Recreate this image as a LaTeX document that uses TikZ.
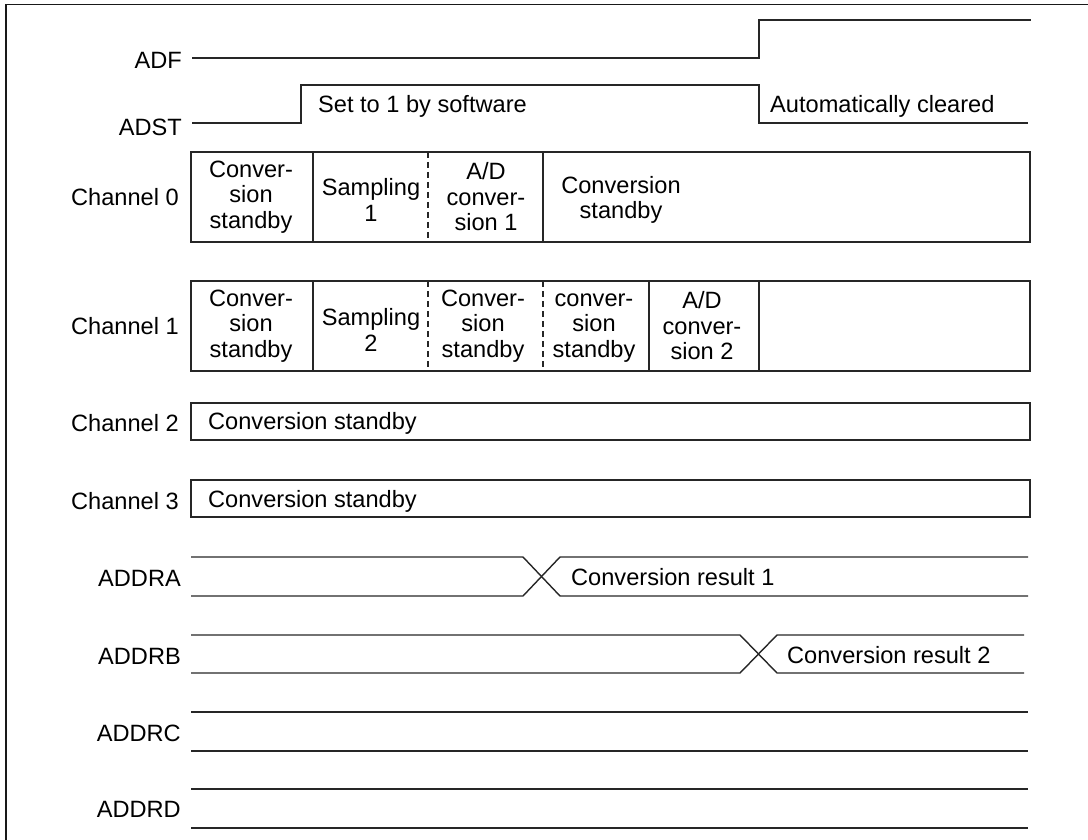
\documentclass[tikz,border=0pt]{standalone}
\usepackage{fontspec}
\setmainfont{Liberation Sans}
\begin{document}
\begin{tikzpicture}[x=1pt,y=-1pt,
  sig/.style={line width=1.4pt, draw=black!85},
  box/.style={line width=1.4pt, draw=black!85},
  dsh/.style={line width=1.2pt, draw=black!85, dash pattern=on 6pt off 4pt},
  frame/.style={line width=1.6pt, draw=black!90},
  lbl/.style={anchor=east, inner sep=0pt},
  txt/.style={inner sep=0pt, align=center},
  wtxt/.style={anchor=west, inner sep=0pt},
  every node/.style={font=\fontsize{23.6}{25.5}\selectfont}]
\useasboundingbox (0,0) rectangle (1088,840);
% frame
\draw[frame] (6,840) -- (6,4.5) -- (1088,4.5);
% labels
\node[lbl] (lADF) at (182,60) {ADF};
\node[lbl] (lADST) at (182,127) {ADST};
\node[lbl] (lch0) at (179,197) {Channel 0};
\node[lbl] (lch1) at (179,326) {Channel 1};
\node[lbl] (lch2) at (179,423) {Channel 2};
\node[lbl] (lch3) at (179,501) {Channel 3};
\node[lbl] (lA) at (181,578) {ADDRA};
\node[lbl] (lB) at (181,656) {ADDRB};
\node[lbl] (lC) at (181,733) {ADDRC};
\node[lbl] (lD) at (181,809) {ADDRD};
% ADF
\draw[sig] (192,58) -- (759,58) -- (759,20) -- (1031,20);
% ADST
\draw[sig] (192,123) -- (301,123) -- (301,85) -- (759,85) -- (759,123) -- (1028,123);
\node[wtxt] (tset) at (318,106) {Set to 1 by software};
\node[wtxt] (tclr) at (770,106) {Automatically cleared};
% Channel 0
\draw[box] (191,152) rectangle (1030,242);
\draw[box] (313,152) -- (313,242);
\draw[dsh] (428,152) -- (428,242);
\draw[box] (543,152) -- (543,242);
\node[txt] (c0a) at (251,197) {Conver-\\sion\\standby};
\node[txt] (c0b) at (371,200) {Sampling\\1};
\node[txt] (c0c) at (486,197) {A/D\\conver-\\sion 1};
\node[txt] (c0d) at (621,200) {Conversion\\standby};
% Channel 1
\draw[box] (191,281) rectangle (1030,371);
\draw[box] (313,281) -- (313,371);
\draw[dsh] (428,281) -- (428,371);
\draw[dsh] (543,281) -- (543,371);
\draw[box] (649,281) -- (649,371);
\draw[box] (759,281) -- (759,371);
\node[txt] (c1a) at (251,326) {Conver-\\sion\\standby};
\node[txt] (c1b) at (371,330) {Sampling\\2};
\node[txt] (c1c) at (483,326) {Conver-\\sion\\standby};
\node[txt] (c1d) at (594,328) {conver-\\sion\\standby};
\node[txt] (c1e) at (702,326) {A/D\\conver-\\sion 2};
% Channel 2, 3
\draw[box] (191,403) rectangle (1030,440);
\node[wtxt] (c2) at (208,423) {Conversion standby};
\draw[box] (191,480) rectangle (1030,517);
\node[wtxt] (c3) at (208,501) {Conversion standby};
% ADDRA
\draw[sig] (191,557) -- (523,557) -- (560,596) -- (1028,596);
\draw[sig] (191,596) -- (523,596) -- (560,557) -- (1028,557);
\node[wtxt] (rA) at (571,577) {Conversion result 1};
% ADDRB
\draw[sig] (191,635) -- (740,635) -- (777,673) -- (1024,673);
\draw[sig] (191,673) -- (740,673) -- (777,635) -- (1024,635);
\node[wtxt] (rB) at (787,655) {Conversion result 2};
% ADDRC, ADDRD
\draw[sig] (191,712) -- (1028,712);
\draw[sig] (191,751) -- (1028,751);
\draw[sig] (191,789) -- (1028,789);
\draw[sig] (191,828) -- (1028,828);
\end{tikzpicture}
\end{document}
